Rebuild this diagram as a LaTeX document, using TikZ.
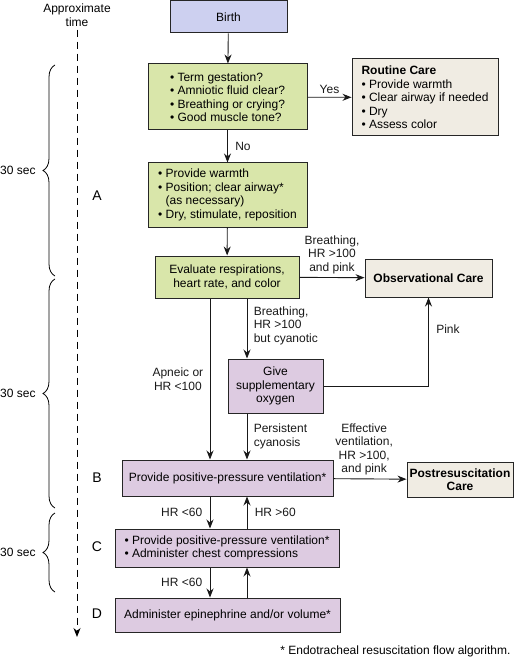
\documentclass[tikz,border=0pt]{standalone}
\usepackage{fontspec}
\setmainfont{Liberation Sans}
\usetikzlibrary{arrows.meta, decorations.pathreplacing}

\definecolor{birthblue}{RGB}{205,208,240}
\definecolor{stepgreen}{RGB}{217,230,170}
\definecolor{actpurple}{RGB}{221,203,225}
\definecolor{carebeige}{RGB}{240,236,227}
\newcommand{\bul}{\textbullet\ }

\begin{document}
\begin{tikzpicture}[x=1pt, y=-1pt, >={Stealth[length=9pt, width=7pt]},
    font=\fontsize{12}{13.5}\selectfont,
    box/.style={draw=black!85, line width=1pt, inner sep=0pt, align=center},
    flow/.style={->, line width=0.9pt, black!90},
    timebrace/.style={decorate, decoration={brace, amplitude=12pt}, line width=0.8pt}]

    \useasboundingbox (0,0) rectangle (517,660);

    % Cột thời gian bên trái
    \node[align=center] (timelbl) at (77,15) {Approximate\\time};
    \coordinate (tend) at (77,637);
    \draw[->, line width=1pt, dash pattern=on 7pt off 5pt] (timelbl.south) -- (tend);

    \draw[timebrace] (55,276) -- node[left=19pt, inner sep=0pt] (secA) {30 sec} (55,65);
    \draw[timebrace] (55,508) -- node[left=19pt, inner sep=0pt] (secB) {30 sec} (55,279);
    \draw[timebrace] (55,592) -- node[left=19pt, inner sep=0pt] (secC) {30 sec} (55,513);

    \node[font=\fontsize{14}{16}\selectfont] (lblA) at (97,196) {A};
    \node[font=\fontsize{14}{16}\selectfont] (lblB) at (97,478) {B};
    \node[font=\fontsize{14}{16}\selectfont] (lblC) at (97,547) {C};
    \node[font=\fontsize{14}{16}\selectfont] (lblD) at (97,614) {D};

    % Các ô của sơ đồ
    \node[box, fill=birthblue, minimum width=117, minimum height=32] (birth) at (228.5,17) {Birth};
    \node[box, fill=stepgreen, minimum width=159, minimum height=66, align=left] (assess) at (227.5,97)
        {\bul Term gestation?\\\bul Amniotic fluid clear?\\\bul Breathing or crying?\\\bul Good muscle tone?};
    \node[box, fill=carebeige, minimum width=146, minimum height=77, align=left] (routine) at (425,97.5)
        {\textbf{Routine Care}\\\bul Provide warmth\\\bul Clear airway if needed\\\bul Dry\\\bul Assess color};
    \node[box, fill=stepgreen, minimum width=159, minimum height=64, align=left] (steps) at (227.5,195)
        {\bul Provide warmth\\\bul Position; clear airway*\\\hphantom{\bul}(as necessary)\\\bul Dry, stimulate, reposition};
    \node[box, fill=stepgreen, minimum width=144, minimum height=42] (evaluate) at (227,277)
        {Evaluate respirations,\\heart rate, and color};
    \node[box, fill=carebeige, minimum width=127, minimum height=38, font=\fontsize{12}{13.5}\selectfont\bfseries] (obs) at (428.5,278)
        {Observational Care};
    \node[box, fill=actpurple, minimum width=95, minimum height=54] (oxygen) at (275.5,386)
        {Give\\supplementary\\oxygen};
    \node[box, fill=actpurple, minimum width=211, minimum height=36] (ppv) at (227.5,478)
        {Provide positive-pressure ventilation*};
    \node[box, fill=carebeige, minimum width=106, minimum height=35, font=\fontsize{12}{13.5}\selectfont\bfseries] (postres) at (460,479.5)
        {Postresuscitation\\Care};
    \node[box, fill=actpurple, minimum width=224, minimum height=38, align=left] (cpr) at (227,548)
        {\bul Provide positive-pressure ventilation*\\\bul Administer chest compressions};
    \node[box, fill=actpurple, minimum width=225, minimum height=34] (epi) at (227.5,615)
        {Administer epinephrine and/or volume*};

    \node[anchor=east] (note) at (514,651) {* Endotracheal resuscitation flow algorithm.};

    % Các mũi tên
    \coordinate (lx) at (210,0);
    \coordinate (rx) at (247,0);

    \draw[flow] (birth) -- (assess);
    \draw[flow] (assess) -- node[above] {Yes} (routine);
    \draw[flow] (assess) -- node[right=4pt] {No} (steps);
    \draw[flow] (steps) -- (evaluate);
    \draw[flow] (evaluate) -- node[above, align=center] {Breathing,\\HR >100\\and pink} (obs);
    \draw[flow] (evaluate.south -| lx) -- node[left=3pt, align=center] {Apneic or\\HR <100} (ppv.north -| lx);
    \draw[flow] (evaluate.south -| rx) -- node[pos=0.45, right=3pt, align=left] {Breathing,\\HR >100\\but cyanotic} (oxygen.north -| rx);
    \draw[flow] (oxygen.south -| rx) -- node[right=3pt, align=left] {Persistent\\cyanosis} (ppv.north -| rx);
    \draw[flow] (oxygen) -| node[pos=0.82, right=4pt] {Pink} (obs);
    \draw[flow] (ppv) -- node[pos=0.42, above, align=center] {Effective\\ventilation,\\HR >100,\\and pink} (postres);
    \draw[flow] (ppv.south -| lx) -- node[left=4pt] {HR <60} (cpr.north -| lx);
    \draw[flow] (cpr.north -| rx) -- node[right=4pt] {HR >60} (ppv.south -| rx);
    \draw[flow] (cpr.south -| lx) -- node[left=4pt] {HR <60} (epi.north -| lx);
    \draw[flow] (epi.north -| rx) -- (cpr.south -| rx);
\end{tikzpicture}
\end{document}
